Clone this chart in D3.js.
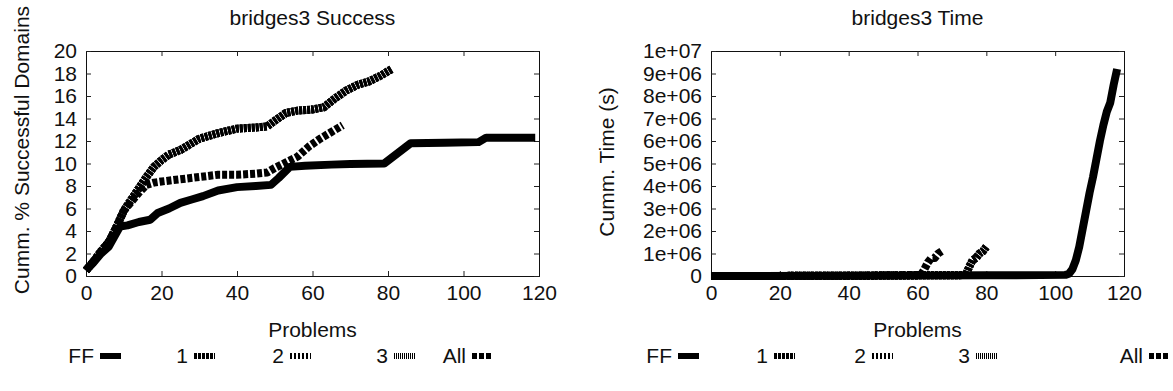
<!DOCTYPE html>
<html>
<head>
<meta charset="utf-8">
<script src="https://cdn.jsdelivr.net/npm/d3@7"></script>
<style>
  body { margin: 0; background: #fff; }
  svg { font-family: "Liberation Sans", Arial, sans-serif; }
</style>
</head>
<body>
<script>
// series names + tick values
let seriesNames = ["FF", "1", "2", "3", "All"];
let xTicks = [0, 20, 40, 60, 80, 100, 120];
let successTicks = [0, 2, 4, 6, 8, 10, 12, 14, 16, 18, 20];
let timeTicks = [0, 1e6, 2e6, 3e6, 4e6, 5e6, 6e6, 7e6, 8e6, 9e6, 1e7];
let timeTickLabels = ["0", "1e+06", "2e+06", "3e+06", "4e+06", "5e+06", "6e+06", "7e+06", "8e+06", "9e+06", "1e+07"];

// cumm. % successful domains, [problem, value]
let ffSuccess = [[0, 0.5], [2, 1.2], [4, 2.0], [6, 2.6], [8, 3.8], [9, 4.4], [11, 4.5], [14, 4.8], [17, 5.0],
  [19, 5.6], [22, 6.0], [25, 6.5], [28, 6.8], [31, 7.1], [35, 7.6], [40, 7.9], [45, 8.0], [49, 8.1],
  [51, 8.7], [54, 9.7], [58, 9.8], [65, 9.9], [70, 9.95], [79, 10.0], [86, 11.8], [95, 11.85],
  [104, 11.9], [106, 12.3], [119, 12.3]];
let topSuccess = [[0, 0.5], [2, 1.3], [4, 2.2], [6, 3.0], [8, 4.3], [10, 5.8], [12, 6.8], [14, 7.8], [16, 8.8],
  [18, 9.7], [20, 10.3], [22, 10.8], [25, 11.2], [28, 11.8], [30, 12.2], [35, 12.7], [40, 13.1],
  [45, 13.2], [48, 13.3], [50, 13.8], [53, 14.5], [56, 14.7], [60, 14.8], [63, 15.0], [66, 15.8],
  [69, 16.5], [72, 17.0], [75, 17.3], [78, 17.8], [81, 18.4]];
let allSuccess = [[0, 0.5], [2, 1.3], [4, 2.2], [6, 3.0], [8, 4.3], [10, 5.8], [12, 6.6], [14, 7.4], [16, 8.1],
  [18, 8.3], [20, 8.4], [25, 8.6], [30, 8.8], [35, 9.0], [40, 9.0], [45, 9.1], [48, 9.2], [50, 9.6],
  [53, 10.1], [56, 10.6], [59, 11.5], [62, 12.2], [65, 12.8], [68, 13.4]];

// cumm. time (s), [problem, value]
let ffTime = [[0, 0], [40, 1e4], [80, 3e4], [103, 5e4], [104, 1e5], [105, 3e5], [106, 7e5], [107, 1.3e6],
  [108, 2.1e6], [109, 2.9e6], [110, 3.7e6], [111, 4.4e6], [112, 5.2e6], [113, 6.0e6], [114, 6.7e6],
  [115, 7.3e6], [116, 7.7e6], [117, 8.5e6], [118, 9.2e6]];
let topTime = [[0, 0], [40, 1e4], [74, 4e4], [75, 4e5], [76, 7e5], [77, 8e5], [78, 1.0e6], [79, 1.1e6], [80, 1.3e6]];
let allTime = [[0, 0], [40, 1e4], [61, 5e4], [62, 3e5], [63, 6e5], [64, 8e5], [65, 8e5], [66, 1.0e6], [67, 1.1e6]];

let dashes = { "FF": null, "1": "3,1", "2": "2,2", "3": "1,1", "All": "5,2" };

function drawPanel(opt) {
  var svg = d3.select("#chart");
  var left = opt.left, right = opt.right, top = 51, bottom = 276;

  var x = d3.scaleLinear().domain([0, 120]).range([left, right]);
  var y = d3.scaleLinear().domain([0, opt.yMax]).range([bottom, top]);

  var g = svg.append("g");

  // ticks on all four sides, pointing inward
  g.append("g")
    .attr("transform", "translate(0," + bottom + ")")
    .call(d3.axisBottom(x).tickValues(xTicks).tickSize(-5).tickPadding(9).tickFormat(d3.format("d")));
  g.append("g")
    .attr("transform", "translate(0," + top + ")")
    .call(d3.axisTop(x).tickValues(xTicks).tickSize(-5).tickFormat(""));
  g.append("g")
    .attr("transform", "translate(" + left + ",0)")
    .call(d3.axisLeft(y).tickValues(opt.yTicks).tickSize(-5).tickPadding(9)
      .tickFormat(function(d, i) { return opt.yLabels[i]; }));
  g.append("g")
    .attr("transform", "translate(" + right + ",0)")
    .call(d3.axisRight(y).tickValues(opt.yTicks).tickSize(-5).tickFormat(""));

  g.selectAll(".domain").attr("stroke", "#111");
  g.selectAll(".tick line").attr("stroke", "#222");
  g.selectAll(".tick text")
    .attr("font-size", "21px")
    .attr("fill", "#111")
    .attr("font-family", "Liberation Sans, Arial, sans-serif");

  // lines
  var line = d3.line()
    .x(function(d) { return x(d[0]); })
    .y(function(d) { return y(d[1]); });

  opt.series.forEach(function(s) {
    g.append("path")
      .datum(s.data)
      .attr("d", line)
      .attr("fill", "none")
      .attr("stroke", "#000")
      .attr("stroke-width", 8)
      .attr("stroke-linejoin", "round")
      .attr("stroke-dasharray", dashes[s.name]);
  });

  // title
  svg.append("text")
    .attr("x", (left + right) / 2)
    .attr("y", 25)
    .attr("text-anchor", "middle")
    .attr("font-size", "21px")
    .attr("fill", "#111")
    .text(opt.title);

  // x axis label
  svg.append("text")
    .attr("x", (left + right) / 2)
    .attr("y", 337)
    .attr("text-anchor", "middle")
    .attr("font-size", "21px")
    .attr("fill", "#111")
    .text("Problems");

  // y axis label
  svg.append("text")
    .attr("transform", "translate(" + opt.yLabelX + "," + opt.yLabelY + ") rotate(-90)")
    .attr("text-anchor", "middle")
    .attr("font-size", "21px")
    .attr("fill", "#111")
    .text(opt.yTitle);

  // legend
  var legend = svg.append("g");
  seriesNames.forEach(function(name, i) {
    var lx = opt.legendX[i];
    legend.append("text")
      .attr("x", lx)
      .attr("y", 363)
      .attr("text-anchor", "end")
      .attr("font-size", "21px")
      .attr("fill", "#111")
      .text(name);
    legend.append("line")
      .attr("x1", lx + 6)
      .attr("x2", lx + 27)
      .attr("y1", 356)
      .attr("y2", 356)
      .attr("stroke", "#000")
      .attr("stroke-width", 6)
      .attr("stroke-dasharray", dashes[name]);
  });
}

function main() {
  d3.select("body").append("svg")
    .attr("id", "chart")
    .attr("width", 1173)
    .attr("height", 391);

  drawPanel({
    left: 86, right: 539, yMax: 20,
    yTicks: successTicks,
    yLabels: successTicks.map(String),
    title: "bridges3 Success",
    yTitle: "Cumm. % Successful Domains",
    yLabelX: 29, yLabelY: 150,
    legendX: [94, 188, 284, 388, 466],
    series: [
      { name: "FF", data: ffSuccess },
      { name: "1", data: topSuccess },
      { name: "2", data: topSuccess },
      { name: "3", data: topSuccess },
      { name: "All", data: allSuccess }
    ]
  });

  drawPanel({
    left: 711, right: 1124, yMax: 1e7,
    yTicks: timeTicks,
    yLabels: timeTickLabels,
    title: "bridges3 Time",
    yTitle: "Cumm. Time (s)",
    yLabelX: 614, yLabelY: 162,
    legendX: [672, 768, 866, 970, 1143],
    series: [
      { name: "FF", data: ffTime },
      { name: "1", data: topTime },
      { name: "2", data: topTime },
      { name: "3", data: topTime },
      { name: "All", data: allTime }
    ]
  });
}

window.onload = function() {
  main();
};
</script>
</body>
</html>
